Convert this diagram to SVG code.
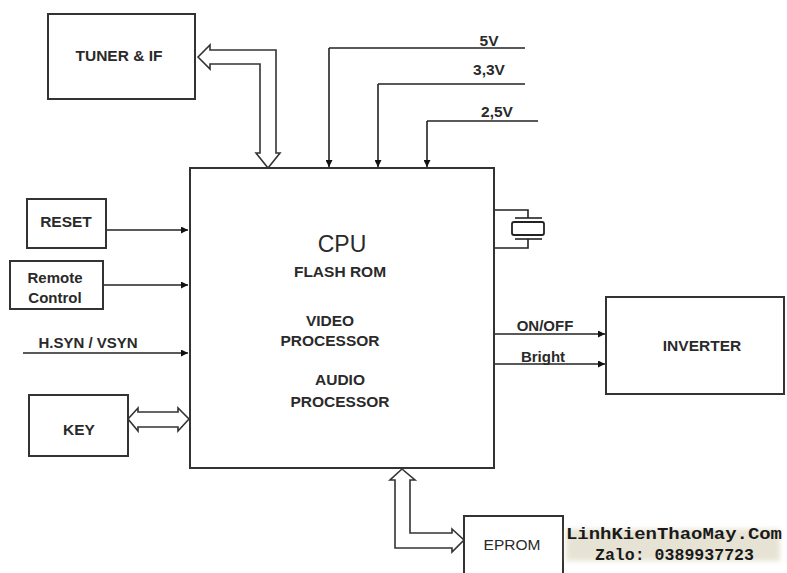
<svg xmlns="http://www.w3.org/2000/svg" width="787" height="573" viewBox="0 0 787 573">
<style>
.box{fill:#fff;stroke:#333;stroke-width:2}
.ln{fill:none;stroke:#222;stroke-width:1.6}
.hol{fill:#fff;stroke:#333;stroke-width:1.6;stroke-linejoin:miter}
.t{font-family:"Liberation Sans",Arial,sans-serif;font-size:15.5px;font-weight:bold;fill:#2a2a2a;text-anchor:middle}
.s{font-size:15px}
.n{font-weight:normal}
.wm{font-family:"Liberation Mono","Courier New",monospace;font-weight:bold;font-size:17px;fill:#1a1a1a;text-anchor:start}
</style>
<defs>
<marker id="ah" viewBox="0 0 10 10" refX="10" refY="5" markerWidth="8" markerHeight="7" markerUnits="userSpaceOnUse" orient="auto">
<path d="M0,0 L10,5 L0,10 z" fill="#111"/>
</marker>
<filter id="blur" x="-10%" y="-50%" width="120%" height="200%"><feGaussianBlur stdDeviation="2.5"/></filter>
</defs>
<rect width="787" height="573" fill="#fff"/>

<g id="connectors">
<line class="ln" x1="329" y1="48" x2="525" y2="48"/>
<line class="ln" x1="329" y1="48" x2="329" y2="167" marker-end="url(#ah)"/>
<line class="ln" x1="378" y1="84" x2="525" y2="84"/>
<line class="ln" x1="378" y1="84" x2="378" y2="167" marker-end="url(#ah)"/>
<line class="ln" x1="427" y1="121" x2="538" y2="121"/>
<line class="ln" x1="427" y1="121" x2="427" y2="167" marker-end="url(#ah)"/>
<line class="ln" x1="106" y1="230" x2="188" y2="230" marker-end="url(#ah)"/>
<line class="ln" x1="103" y1="285" x2="188" y2="285" marker-end="url(#ah)"/>
<line class="ln" x1="23" y1="353" x2="188" y2="353" marker-end="url(#ah)"/>
<line class="ln" x1="495" y1="334" x2="605" y2="334" marker-end="url(#ah)"/>
<line class="ln" x1="495" y1="364" x2="605" y2="364" marker-end="url(#ah)"/>
<polygon class="hol" points="198,57 210,45 210,50 276,50 276,153 280,153 268,168 256,153 260,153 260,64 210,64 210,69"/>
<polygon class="hol" points="128,419 138,408 138,412 178,412 178,408 189,419 178,431 178,427 138,427 138,431"/>
<polygon class="hol" points="402,469 415,480 410,480 410,533 452,533 452,529 464,540 452,552 452,548 395,548 395,480 390,480"/>
<text class="t" x="489" y="46">5V</text>
<text class="t" x="489" y="75">3,3V</text>
<text class="t" x="497" y="117">2,5V</text>
<text class="t s" x="88" y="348">H.SYN / VSYN</text>
<text class="t s" x="545" y="331">ON/OFF</text>
<text class="t s" x="543" y="362">Bright</text>
</g>

<g id="crystal">
<polyline class="ln" points="494,210 528,210 528,218"/>
<line class="ln" x1="515" y1="218" x2="542" y2="218"/>
<rect x="512" y="222" width="32" height="13" rx="2" fill="#fff" stroke="#222" stroke-width="1.8"/>
<line class="ln" x1="515" y1="239" x2="542" y2="239"/>
<polyline class="ln" points="528,239 528,248 494,248"/>
</g>

<g id="cpu">
<rect class="box" x="190" y="168" width="304" height="300"/>
<text class="t n" x="342" y="252" style="font-size:23px">CPU</text>
<text class="t" x="340" y="277">FLASH ROM</text>
<text class="t" x="330" y="326">VIDEO</text>
<text class="t" x="330" y="346">PROCESSOR</text>
<text class="t" x="340" y="385">AUDIO</text>
<text class="t" x="340" y="407">PROCESSOR</text>
</g>

<g id="tuner">
<rect class="box" x="48" y="14" width="147" height="85"/>
<text class="t" x="119" y="61">TUNER &amp; IF</text>
</g>

<g id="reset">
<rect class="box" x="27" y="199" width="79" height="49"/>
<text class="t" x="66" y="227">RESET</text>
</g>

<g id="remote">
<rect class="box" x="10" y="261" width="93" height="48"/>
<text class="t s" x="55" y="283">Remote</text>
<text class="t s" x="55" y="303">Control</text>
</g>

<g id="key">
<rect class="box" x="29" y="395" width="99" height="61"/>
<text class="t" x="79" y="435">KEY</text>
</g>

<g id="inverter">
<rect class="box" x="606" y="297" width="178" height="97"/>
<text class="t" x="702" y="351">INVERTER</text>
</g>

<g id="eprom">
<rect class="box" x="464" y="516" width="99" height="62"/>
<text class="t n" x="512" y="550">EPROM</text>
</g>

<g id="watermark">
<rect x="566" y="529" width="214" height="32" fill="#d8d2b8" opacity="0.6" filter="url(#blur)"/>
<text class="wm" x="566" y="539" textLength="216" lengthAdjust="spacingAndGlyphs">LinhKienThaoMay.Com</text>
<text class="wm" x="595" y="560" textLength="159" lengthAdjust="spacingAndGlyphs">Zalo: 0389937723</text>
</g>
</svg>
